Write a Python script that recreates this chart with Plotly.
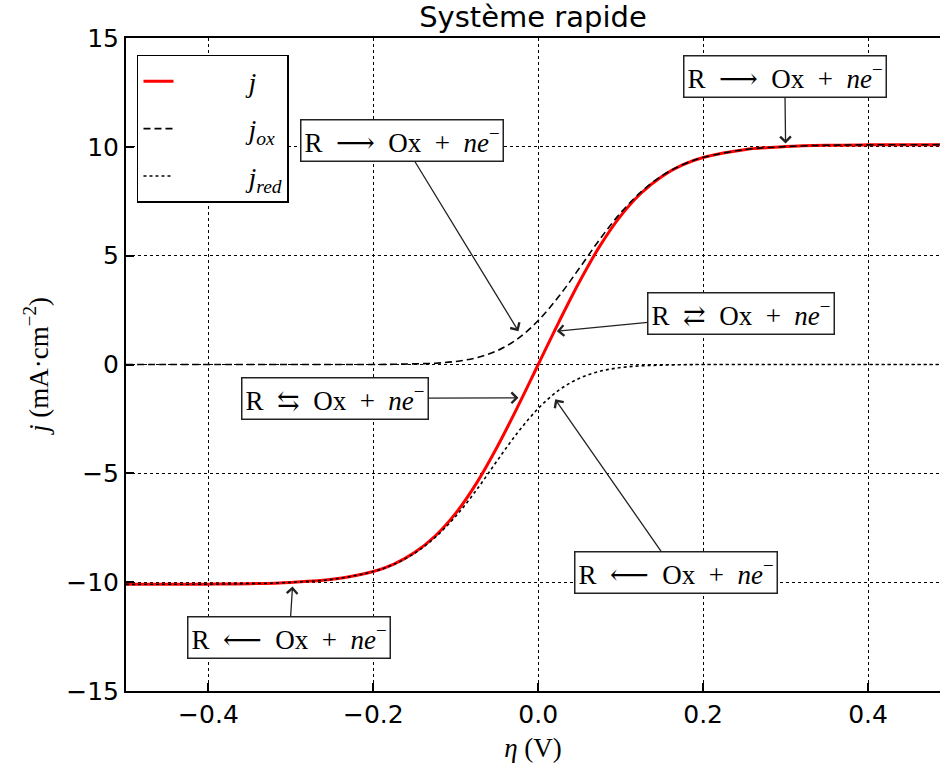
import plotly.graph_objects as go

# Overpotential (V)
eta = [-0.5, -0.4, -0.35, -0.3, -0.25, -0.2, -0.175, -0.15, -0.125, -0.1, -0.075, -0.05, -0.025,
       0.0, 0.025, 0.05, 0.075, 0.1, 0.125, 0.15, 0.175, 0.2, 0.25, 0.3, 0.35, 0.4, 0.5]
# anodic (oxidation) current density, mA/cm2
j_ox = [0.0, 0.0, 0.0, 0.0, 0.0, 0.0, 0.01, 0.03, 0.06, 0.14, 0.31, 0.63, 1.18,
        2.02, 3.13, 4.43, 5.77, 6.97, 7.94, 8.67, 9.18, 9.51, 9.87, 10.01, 10.07, 10.09, 10.1]
# cathodic (reduction) current density, mA/cm2
j_red = [-10.1, -10.09, -10.07, -10.01, -9.87, -9.51, -9.18, -8.67, -7.94, -6.97, -5.77, -4.43, -3.13,
         -2.02, -1.18, -0.63, -0.31, -0.14, -0.06, -0.03, -0.01, 0.0, 0.0, 0.0, 0.0, 0.0, 0.0]
# total current density
j_tot = [a + b for a, b in zip(j_ox, j_red)]

x_ticks = [-0.4, -0.2, 0.0, 0.2, 0.4]
y_ticks = [-15, -10, -5, 0, 5, 10, 15]

SERIF = "Liberation Serif, DejaVu Serif, serif"
SANS = "DejaVu Sans, sans-serif"
PAD = "&nbsp;" * 10

fig = go.Figure()
fig.add_trace(go.Scatter(x=eta, y=j_tot, mode="lines", line=dict(color="red", width=3, shape="spline"),
                         name=PAD + "<i>j</i>", legendgroup="a"))
fig.add_trace(go.Scatter(x=eta, y=j_ox, mode="lines",
                         line=dict(color="black", width=1.6, dash="7px,4px", shape="spline"),
                         name=PAD + "<i>j</i><sub><i>ox</i></sub>", legendgroup="b"))
fig.add_trace(go.Scatter(x=eta, y=j_red, mode="lines",
                         line=dict(color="black", width=1.6, dash="dot", shape="spline"),
                         name=PAD + "<i>j</i><sub><i>red</i></sub>", legendgroup="c"))

S = "\u2002"
ox = S + "Ox" + S + "+" + S + "<i>ne</i><sup>−</sup>"
annots = [
    # (text, tip x, tip y, text x, text y)
    ("R" + S + "⟶" + ox, 0.3, 10.15, 0.299, 13.23),
    ("R" + S + "⟶" + ox, -0.024, 1.53, -0.165, 10.28),
    ("R" + S + "⇄" + ox, 0.0226, 1.53, 0.246, 2.36),
    ("R" + S + "⇆" + ox, -0.024, -1.53, -0.247, -1.56),
    ("R" + S + "⟵" + ox, 0.0206, -1.6, 0.167, -9.56),
    ("R" + S + "⟵" + ox, -0.298, -10.2, -0.302, -12.55),
]
for t, x, y, axv, ayv in annots:
    fig.add_annotation(x=x, y=y, ax=axv, ay=ayv, axref="x", ayref="y", xref="x", yref="y",
                       text=t, showarrow=True, arrowhead=4, arrowsize=1.6, arrowwidth=1.3,
                       arrowcolor="#222", font=dict(family=SERIF, size=27, color="black"),
                       bgcolor="white", bordercolor="#222", borderwidth=1.5, borderpad=3)

fig.update_layout(
    width=940, height=769,
    margin=dict(l=126, r=0, t=38, b=78),
    plot_bgcolor="white", paper_bgcolor="white",
    title=dict(text="Système rapide", x=0.567, xanchor="center", y=0.978, yanchor="middle",
               font=dict(family=SANS, size=29, color="black")),
    legend=dict(x=0.0135, y=0.974, xanchor="left", yanchor="top", bgcolor="white",
                bordercolor="black", borderwidth=1.5, tracegroupgap=8,
                font=dict(family=SERIF, size=28, color="black")),
    showlegend=True,
)
fig.update_xaxes(range=[-0.5, 0.4873], tickvals=x_ticks, ticktext=["−0.4", "−0.2", "0.0", "0.2", "0.4"],
                 showline=True, linecolor="black", linewidth=2, mirror=True,
                 ticks="inside", ticklen=8, tickwidth=1.5, tickcolor="black",
                 showgrid=True, gridcolor="black", griddash="dot", gridwidth=1, zeroline=False,
                 tickfont=dict(family=SANS, size=25, color="black"),
                 title=dict(text="<i>η</i> (V)", font=dict(family=SERIF, size=27, color="black"), standoff=10))
fig.update_yaxes(range=[-15, 15], tickvals=y_ticks,
                 showline=True, linecolor="black", linewidth=2, mirror=False,
                 ticks="inside", ticklen=8, tickwidth=1.5, tickcolor="black",
                 showgrid=True, gridcolor="black", griddash="dot", gridwidth=1, zeroline=False,
                 tickfont=dict(family=SANS, size=25, color="black"),
                 title=dict(text="<i>j</i> (mA·cm<sup>−2</sup>)", font=dict(family=SERIF, size=27, color="black"),
                            standoff=10))

fig.write_html("out.html")
